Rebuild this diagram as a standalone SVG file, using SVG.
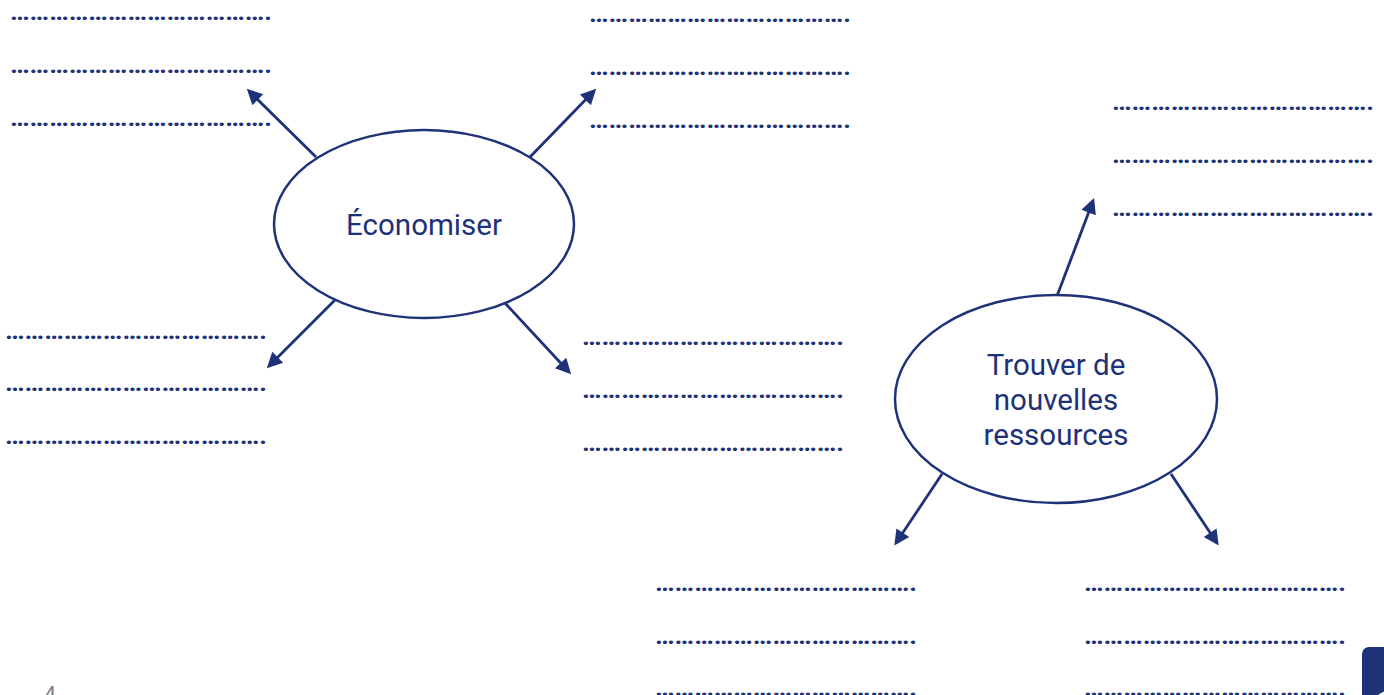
<svg xmlns="http://www.w3.org/2000/svg" width="1384" height="695" viewBox="0 0 1384 695">
<style>
.dots{font-family:Roboto,"Liberation Sans",sans-serif;font-size:24px;font-weight:bold;fill:#1e3278}
.lbl{font-family:Roboto,"Liberation Sans",sans-serif;font-size:29.5px;fill:#1e3278;text-anchor:middle}
.node ellipse{fill:#fff;stroke:#1e3278;stroke-width:2.5}
.conn line{stroke:#1e3278;stroke-width:2.8;marker-end:url(#ah)}
</style>
<defs>
<marker id="ah" viewBox="0 0 10 10" refX="8" refY="5" markerWidth="6.5" markerHeight="5.5" markerUnits="strokeWidth" orient="auto">
<path d="M0,0 L10,5 L0,10 z" fill="#1e3278"/>
</marker>
</defs>
<rect width="1384" height="695" fill="#fff"/>
<g id="blanks">
<g id="blanks-top-left">
<text class="dots" x="10" y="19.5" textLength="262" lengthAdjust="spacingAndGlyphs">&#8230;&#8230;&#8230;&#8230;&#8230;&#8230;&#8230;&#8230;&#8230;&#8230;&#8230;&#8230;&#8230;.</text>
<text class="dots" x="10" y="72.5" textLength="262" lengthAdjust="spacingAndGlyphs">&#8230;&#8230;&#8230;&#8230;&#8230;&#8230;&#8230;&#8230;&#8230;&#8230;&#8230;&#8230;&#8230;.</text>
<text class="dots" x="10" y="125.5" textLength="262" lengthAdjust="spacingAndGlyphs">&#8230;&#8230;&#8230;&#8230;&#8230;&#8230;&#8230;&#8230;&#8230;&#8230;&#8230;&#8230;&#8230;.</text>
</g>
<g id="blanks-top-mid">
<text class="dots" x="589" y="21.5" textLength="262" lengthAdjust="spacingAndGlyphs">&#8230;&#8230;&#8230;&#8230;&#8230;&#8230;&#8230;&#8230;&#8230;&#8230;&#8230;&#8230;&#8230;.</text>
<text class="dots" x="589" y="74.5" textLength="262" lengthAdjust="spacingAndGlyphs">&#8230;&#8230;&#8230;&#8230;&#8230;&#8230;&#8230;&#8230;&#8230;&#8230;&#8230;&#8230;&#8230;.</text>
<text class="dots" x="589" y="127.5" textLength="262" lengthAdjust="spacingAndGlyphs">&#8230;&#8230;&#8230;&#8230;&#8230;&#8230;&#8230;&#8230;&#8230;&#8230;&#8230;&#8230;&#8230;.</text>
</g>
<g id="blanks-top-right">
<text class="dots" x="1112" y="109.5" textLength="262" lengthAdjust="spacingAndGlyphs">&#8230;&#8230;&#8230;&#8230;&#8230;&#8230;&#8230;&#8230;&#8230;&#8230;&#8230;&#8230;&#8230;.</text>
<text class="dots" x="1112" y="162.5" textLength="262" lengthAdjust="spacingAndGlyphs">&#8230;&#8230;&#8230;&#8230;&#8230;&#8230;&#8230;&#8230;&#8230;&#8230;&#8230;&#8230;&#8230;.</text>
<text class="dots" x="1112" y="215.5" textLength="262" lengthAdjust="spacingAndGlyphs">&#8230;&#8230;&#8230;&#8230;&#8230;&#8230;&#8230;&#8230;&#8230;&#8230;&#8230;&#8230;&#8230;.</text>
</g>
<g id="blanks-bottom-left">
<text class="dots" x="5" y="338.5" textLength="262" lengthAdjust="spacingAndGlyphs">&#8230;&#8230;&#8230;&#8230;&#8230;&#8230;&#8230;&#8230;&#8230;&#8230;&#8230;&#8230;&#8230;.</text>
<text class="dots" x="5" y="391" textLength="262" lengthAdjust="spacingAndGlyphs">&#8230;&#8230;&#8230;&#8230;&#8230;&#8230;&#8230;&#8230;&#8230;&#8230;&#8230;&#8230;&#8230;.</text>
<text class="dots" x="5" y="443.5" textLength="262" lengthAdjust="spacingAndGlyphs">&#8230;&#8230;&#8230;&#8230;&#8230;&#8230;&#8230;&#8230;&#8230;&#8230;&#8230;&#8230;&#8230;.</text>
</g>
<g id="blanks-mid">
<text class="dots" x="582" y="345" textLength="262" lengthAdjust="spacingAndGlyphs">&#8230;&#8230;&#8230;&#8230;&#8230;&#8230;&#8230;&#8230;&#8230;&#8230;&#8230;&#8230;&#8230;.</text>
<text class="dots" x="582" y="398" textLength="262" lengthAdjust="spacingAndGlyphs">&#8230;&#8230;&#8230;&#8230;&#8230;&#8230;&#8230;&#8230;&#8230;&#8230;&#8230;&#8230;&#8230;.</text>
<text class="dots" x="582" y="451" textLength="262" lengthAdjust="spacingAndGlyphs">&#8230;&#8230;&#8230;&#8230;&#8230;&#8230;&#8230;&#8230;&#8230;&#8230;&#8230;&#8230;&#8230;.</text>
</g>
<g id="blanks-bottom-mid">
<text class="dots" x="655" y="590.5" textLength="262" lengthAdjust="spacingAndGlyphs">&#8230;&#8230;&#8230;&#8230;&#8230;&#8230;&#8230;&#8230;&#8230;&#8230;&#8230;&#8230;&#8230;.</text>
<text class="dots" x="655" y="643.5" textLength="262" lengthAdjust="spacingAndGlyphs">&#8230;&#8230;&#8230;&#8230;&#8230;&#8230;&#8230;&#8230;&#8230;&#8230;&#8230;&#8230;&#8230;.</text>
<text class="dots" x="655" y="695.5" textLength="262" lengthAdjust="spacingAndGlyphs">&#8230;&#8230;&#8230;&#8230;&#8230;&#8230;&#8230;&#8230;&#8230;&#8230;&#8230;&#8230;&#8230;.</text>
</g>
<g id="blanks-bottom-right">
<text class="dots" x="1084" y="590.5" textLength="262" lengthAdjust="spacingAndGlyphs">&#8230;&#8230;&#8230;&#8230;&#8230;&#8230;&#8230;&#8230;&#8230;&#8230;&#8230;&#8230;&#8230;.</text>
<text class="dots" x="1084" y="643.5" textLength="262" lengthAdjust="spacingAndGlyphs">&#8230;&#8230;&#8230;&#8230;&#8230;&#8230;&#8230;&#8230;&#8230;&#8230;&#8230;&#8230;&#8230;.</text>
<text class="dots" x="1084" y="695.5" textLength="262" lengthAdjust="spacingAndGlyphs">&#8230;&#8230;&#8230;&#8230;&#8230;&#8230;&#8230;&#8230;&#8230;&#8230;&#8230;&#8230;&#8230;.</text>
</g>
</g>
<g id="connectors" class="conn">
<line x1="316" y1="157" x2="249" y2="91"/>
<line x1="530" y1="157" x2="594" y2="91"/>
<line x1="337" y1="298" x2="269" y2="366"/>
<line x1="505" y1="303" x2="569" y2="372"/>
<line x1="1057" y1="296" x2="1093" y2="201"/>
<line x1="942" y1="474" x2="896" y2="543"/>
<line x1="1171" y1="474" x2="1217" y2="543"/>
</g>
<g id="node-economiser" class="node">
<ellipse cx="424" cy="224" rx="150" ry="94"/>
<text class="lbl" x="424" y="235">Économiser</text>
</g>
<g id="node-ressources" class="node">
<ellipse cx="1056" cy="399" rx="161" ry="104"/>
<text class="lbl" x="1056" y="375">Trouver de</text>
<text class="lbl" x="1056" y="410">nouvelles</text>
<text class="lbl" x="1056" y="445">ressources</text>
</g>
<text x="50" y="702" font-family="Roboto,'Liberation Sans',sans-serif" font-size="22" fill="#808080" text-anchor="middle">4</text>
<rect x="1362" y="647" width="40" height="60" rx="7" fill="#1e3278"/>
<circle cx="1392" cy="712" r="22" fill="#fff"/>
</svg>
